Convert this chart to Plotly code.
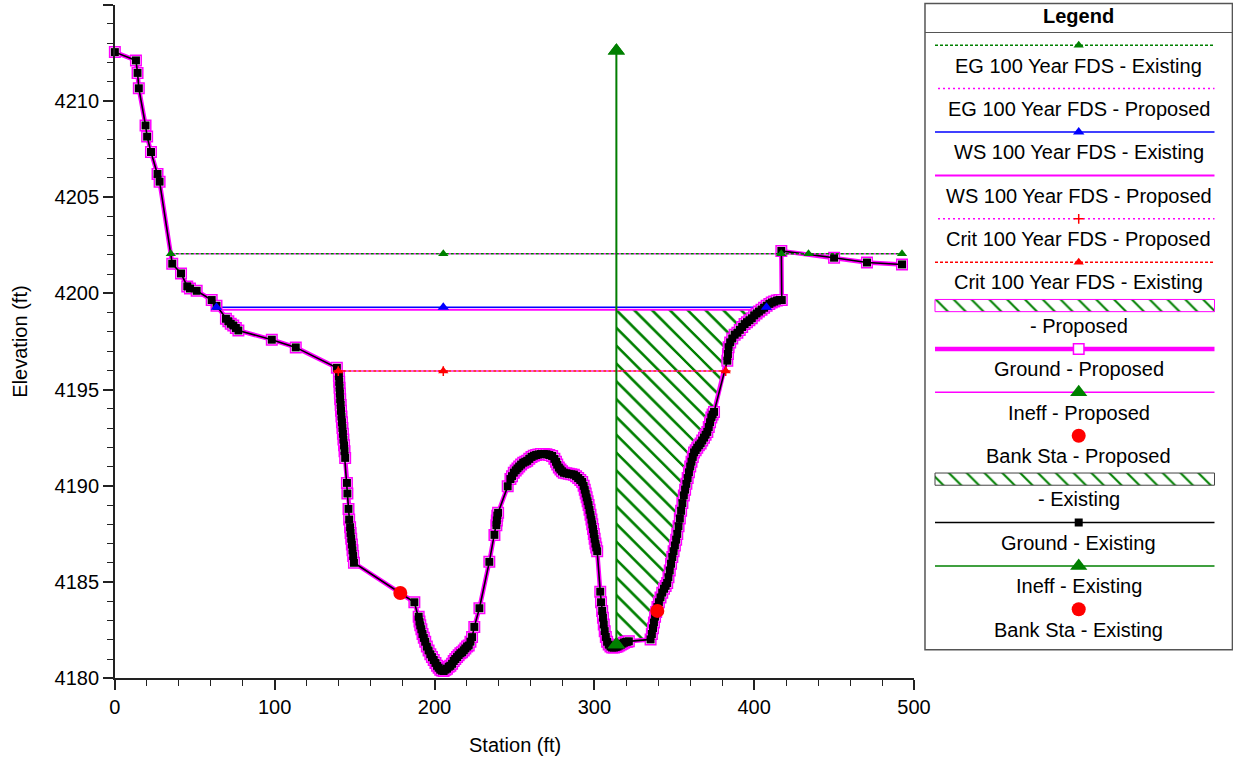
import numpy as np
import plotly.graph_objects as go

# ---------------------------------------------------------------------------
# Cross-section survey: station (ft) / elevation (ft)
# ---------------------------------------------------------------------------
ground_sta = [
    0.0, 13.2, 14.2, 15.0, 19.2, 20.2, 22.6, 26.7, 28.0, 35.9, 41.4, 45.3, 47.0,
    51.2, 60.6, 63.6, 69.5, 71.0, 72.5, 74.1, 75.7, 77.3, 98.2, 113.2, 138.9,
    140.2, 140.4, 140.6, 140.8, 141.0, 141.3, 141.5, 141.8, 142.1, 142.4, 142.7,
    143.0, 143.4, 143.7, 144.1,
    145.2, 145.5, 146.2, 146.6,
    147.2, 147.5, 147.9, 148.3, 148.7, 149.1, 149.6,
    187.4,
    190.1, 190.6, 191.1, 191.8, 192.5, 193.3, 194.2, 195.2, 196.3, 197.4, 198.4,
    199.5, 200.6, 201.6, 202.6, 203.6, 204.6, 205.7, 206.8, 207.8, 208.9, 209.9,
    211.0, 212.0, 213.0, 214.1, 215.1, 216.2, 217.2, 218.3, 219.3, 220.4, 221.4,
    222.5, 223.5,
    224.9, 228.1, 234.3, 237.5,
    238.7, 239.0, 239.3, 239.8,
    245.8,
    247.5, 248.5, 249.6, 250.8, 251.9, 253.0, 254.2, 255.5, 256.8, 258.0, 259.3,
    260.7, 262.1, 263.6, 265.0, 266.6, 268.4, 270.0, 271.8, 273.6, 275.0, 276.0,
    276.8, 277.8, 278.8, 279.8, 280.9, 282.5, 284.0, 285.6, 287.2, 288.6, 289.9,
    291.2, 292.4, 293.3, 294.0, 294.6, 295.2, 295.8, 296.4, 297.0, 297.6, 298.2,
    298.7, 299.2, 299.7, 300.2, 300.7, 301.2, 301.8,
    303.7, 304.2,
    304.9, 305.4, 305.9, 306.5, 307.2, 308.0, 309.0, 310.1, 311.2, 312.3, 313.4,
    314.5, 315.6, 316.6, 317.6, 318.6, 319.6, 320.6, 321.6,
    335.2,
    336.0, 336.7, 337.3, 338.0, 338.7, 339.5, 340.4, 341.4, 342.5, 343.6, 344.6,
    345.6, 346.4, 347.2, 348.0, 348.8, 349.6, 350.4, 351.2, 351.9, 352.7, 353.5,
    354.3, 355.1, 356.0, 356.8, 357.6, 358.4, 359.2, 360.0, 360.8, 361.6, 362.4,
    363.4, 364.4, 365.4, 366.5, 367.5, 368.6, 369.6, 370.7, 371.6, 372.4, 373.2,
    374.0, 374.9,
    383.2,
    383.6, 384.0, 385.0, 386.3, 387.8, 389.5, 391.0, 392.5, 394.0, 395.5, 397.0,
    398.5, 400.0, 401.5, 403.0, 404.6, 406.2, 407.8, 409.5, 411.0, 412.5, 414.2,
    415.8, 417.3,
    417.0, 450.0, 470.6, 492.5,
]
ground_elev = [
    4212.53, 4212.10, 4211.45, 4210.65, 4208.72, 4208.14, 4207.34, 4206.20,
    4205.80, 4201.54, 4201.03, 4200.36, 4200.25, 4200.13, 4199.65, 4199.35,
    4198.68, 4198.55, 4198.42, 4198.33, 4198.20, 4198.07, 4197.59, 4197.19,
    4196.13,
    4195.70, 4195.40, 4195.10, 4194.80, 4194.50, 4194.20, 4193.90, 4193.60,
    4193.30, 4193.00, 4192.70, 4192.40, 4192.10, 4191.80, 4191.45,
    4190.15, 4189.60, 4188.80, 4188.25,
    4187.85, 4187.55, 4187.25, 4186.95, 4186.65, 4186.35, 4186.00,
    4183.95,
    4183.20, 4182.95, 4182.75, 4182.55, 4182.30, 4182.10, 4181.90, 4181.65,
    4181.45, 4181.25, 4181.10, 4180.95, 4180.80, 4180.65, 4180.55, 4180.45,
    4180.40, 4180.38, 4180.45, 4180.50, 4180.60, 4180.65, 4180.75, 4180.90,
    4181.00, 4181.10, 4181.20, 4181.30, 4181.35, 4181.45, 4181.55, 4181.65,
    4181.70, 4181.90, 4182.14,
    4182.67, 4183.64, 4186.05, 4187.45,
    4187.95, 4188.20, 4188.45, 4188.60,
    4189.97,
    4190.35, 4190.50, 4190.68, 4190.80, 4190.90, 4191.00, 4191.10, 4191.20,
    4191.25, 4191.30, 4191.40, 4191.50, 4191.56, 4191.60, 4191.63, 4191.65,
    4191.65, 4191.64, 4191.60, 4191.55, 4191.40, 4191.25, 4191.10, 4190.95,
    4190.85, 4190.75, 4190.68, 4190.65, 4190.62, 4190.60, 4190.58, 4190.50,
    4190.40, 4190.30, 4190.20, 4190.00, 4189.80, 4189.60, 4189.40, 4189.20,
    4189.00, 4188.75, 4188.50, 4188.25, 4188.00, 4187.75, 4187.50, 4187.25,
    4187.00, 4186.80, 4186.60,
    4184.50, 4183.95,
    4183.50, 4183.15, 4182.80, 4182.45, 4182.15, 4181.90, 4181.75, 4181.65,
    4181.60, 4181.60, 4181.62, 4181.65, 4181.70, 4181.75, 4181.80, 4181.85,
    4181.88, 4181.90, 4181.92,
    4182.02,
    4182.30, 4182.60, 4182.90, 4183.20, 4183.45, 4183.70, 4183.95, 4184.20,
    4184.45, 4184.65, 4184.80, 4184.95, 4185.25, 4185.60, 4185.95, 4186.30,
    4186.60, 4186.90, 4187.20, 4187.50, 4187.90, 4188.30, 4188.70, 4189.10,
    4189.50, 4189.80, 4190.10, 4190.40, 4190.70, 4191.00, 4191.25, 4191.50,
    4191.73, 4191.85, 4191.98, 4192.10, 4192.20, 4192.35, 4192.50, 4192.65,
    4192.80, 4193.05, 4193.30, 4193.55, 4193.70, 4193.84,
    4196.50,
    4196.85, 4197.20, 4197.45, 4197.65, 4197.85, 4197.95, 4198.10, 4198.25,
    4198.40, 4198.50, 4198.60, 4198.70, 4198.85, 4198.95, 4199.05, 4199.15,
    4199.25, 4199.35, 4199.45, 4199.52, 4199.57, 4199.62, 4199.65, 4199.65,
    4202.20, 4201.85, 4201.60, 4201.50,
]

# Water surface / energy grade / critical depth (100 Year FDS)
eg_elev = 4202.05
eg_sta = [35.0, 205.5, 417.0, 434.0, 492.5]
ws_exist_elev = 4199.28
ws_exist_sta = [63.6, 205.5, 407.7]
ws_prop_elev = 4199.15
ws_prop_sta = [65.2, 404.6]
crit_elev = 4195.96
crit_sta = [139.8, 205.5, 382.2]

# Ineffective flow limit and bank stations
ineff_sta = 313.8
ineff_elev = [4181.75, 4212.6]
bank_sta = [178.6, 339.4]
bank_elev = [4184.43, 4183.50]

x_range = [0, 500]
y_range = [4180, 4215]

legend_labels = [
    "EG 100 Year FDS - Existing",
    "EG 100 Year FDS - Proposed",
    "WS 100 Year FDS - Existing",
    "WS 100 Year FDS - Proposed",
    "Crit 100 Year FDS - Proposed",
    "Crit 100 Year FDS - Existing",
    " - Proposed",
    "Ground - Proposed",
    "Ineff - Proposed",
    "Bank Sta - Proposed",
    " - Existing",
    "Ground - Existing",
    "Ineff - Existing",
    "Bank Sta - Existing",
]
legend_keys = [
    "eg_exist", "eg_prop", "ws_exist", "ws_prop", "crit_prop", "crit_exist",
    "hatch_prop", "ground_prop", "ineff_prop", "bank_prop", "hatch_exist",
    "ground_exist", "ineff_exist", "bank_exist",
]

# ---------------------------------------------------------------------------
# Styles
# ---------------------------------------------------------------------------
MAG = "#FF00FF"
GRN = "#008000"
BLU = "#0000FF"
RED = "#FF0000"
BLK = "#000000"
AX = "#222222"
FONT = "Liberation Sans, Arial, sans-serif"

DOT = "3px,2px"
DOT_FILL = "0px,3px,2px,0px"  # same rhythm, shifted into the gaps
HATCH = dict(shape="\\", fgcolor=GRN, bgcolor="rgba(0,0,0,0)",
             size=12.6, solidity=0.16, fillmode="replace")

styles = {
    "eg_exist": dict(kind="line", line=dict(color=GRN, width=1.5, dash=DOT),
                     marker=dict(symbol="triangle-up", size=9, color=GRN)),
    "eg_prop": dict(kind="line", line=dict(color=MAG, width=1.5, dash=DOT_FILL), marker=None),
    "ws_exist": dict(kind="line", line=dict(color=BLU, width=1.5),
                     marker=dict(symbol="triangle-up", size=10, color=BLU)),
    "ws_prop": dict(kind="line", line=dict(color=MAG, width=2), marker=None),
    "crit_prop": dict(kind="line", line=dict(color=MAG, width=1.5, dash=DOT_FILL),
                      marker=dict(symbol="cross-thin", size=7, color=RED,
                                  line=dict(color=RED, width=1.5))),
    "crit_exist": dict(kind="line", line=dict(color=RED, width=1.5, dash=DOT),
                       marker=dict(symbol="triangle-up", size=9, color=RED)),
    "hatch_prop": dict(kind="hatch", border=MAG),
    "ground_prop": dict(kind="line", line=dict(color=MAG, width=4.5),
                        marker=dict(symbol="square", size=10.5, color="white",
                                    line=dict(color=MAG, width=1.5))),
    "ineff_prop": dict(kind="line", line=dict(color=MAG, width=1.5),
                       marker=dict(symbol="triangle-up", size=15, color=GRN)),
    "bank_prop": dict(kind="marker", marker=dict(symbol="circle", size=14, color=RED)),
    "hatch_exist": dict(kind="hatch", border="#444444"),
    "ground_exist": dict(kind="line", line=dict(color=BLK, width=1.6),
                         marker=dict(symbol="square", size=8, color=BLK)),
    "ineff_exist": dict(kind="line", line=dict(color=GRN, width=1.5),
                        marker=dict(symbol="triangle-up", size=15, color=GRN)),
    "bank_exist": dict(kind="marker", marker=dict(symbol="circle", size=14, color=RED)),
}

W, H = 1233, 759
# Margins that the axis tick labels push out to (end labels overhanging the axes)
M_L, M_R, M_T, M_B = 6.3, 18.4, 11.5, 11.4
PLOT_L, PLOT_R, PLOT_T, PLOT_B = 115, 913, 16, 679
LG_X0, LG_X1, LG_Y0, LG_Y1 = 923, 1232, 14, 652
WP = W - M_L - M_R
HP = H - M_T - M_B


def px_x(p):
    return (p - M_L) / WP


def px_y(p):
    return 1 - (p - M_T) / HP


fig = go.Figure()

# ---------------------------------------------------------------------------
# Ineffective flow area (hatched) between the ineff limit and the right bank
# ---------------------------------------------------------------------------
gs = np.array(ground_sta)
ge = np.array(ground_elev)
mono_end = int(np.where(np.diff(gs) < 0)[0][0]) + 1
bottom = float(np.interp(ineff_sta, gs[:mono_end], ge[:mono_end]))
inside = (gs[:mono_end] > ineff_sta) & (gs[:mono_end] < ws_prop_sta[1])
hatch_x = [ineff_sta] + gs[:mono_end][inside].tolist() + [ws_prop_sta[1], ineff_sta, ineff_sta]
hatch_y = [bottom] + ge[:mono_end][inside].tolist() + [ws_prop_elev, ws_prop_elev, bottom]

for key in ("hatch_exist", "hatch_prop"):
    fig.add_trace(go.Scatter(
        x=hatch_x, y=hatch_y, mode="lines", fill="toself",
        fillcolor="rgba(0,0,0,0)", fillpattern=HATCH,
        line=dict(width=0), hoverinfo="skip", showlegend=False))


def line_trace(x, y, key, with_markers=True, **kw):
    st = styles[key]
    mode = "lines+markers" if (with_markers and st.get("marker")) else "lines"
    tr = dict(x=x, y=y, mode=mode, line=st["line"], showlegend=False)
    if mode == "lines+markers":
        tr["marker"] = st["marker"]
    tr.update(kw)
    return go.Scatter(**tr)


# Water surfaces
fig.add_trace(line_trace(ws_prop_sta, [ws_prop_elev] * len(ws_prop_sta), "ws_prop"))
fig.add_trace(line_trace(ws_exist_sta, [ws_exist_elev] * len(ws_exist_sta), "ws_exist",
                         with_markers=False))

# Ground lines
fig.add_trace(line_trace(ground_sta, ground_elev, "ground_prop", cliponaxis=False))
fig.add_trace(line_trace(ground_sta, ground_elev, "ground_exist", cliponaxis=False))

# Energy grade and critical depth lines
fig.add_trace(line_trace([eg_sta[0], eg_sta[-1]], [eg_elev, eg_elev], "eg_prop"))
fig.add_trace(line_trace(eg_sta, [eg_elev] * len(eg_sta), "eg_exist"))
fig.add_trace(line_trace(crit_sta, [crit_elev] * len(crit_sta), "crit_prop"))
fig.add_trace(line_trace(crit_sta, [crit_elev] * len(crit_sta), "crit_exist"))
fig.add_trace(go.Scatter(x=ws_exist_sta, y=[ws_exist_elev] * len(ws_exist_sta),
                         mode="markers", marker=styles["ws_exist"]["marker"],
                         showlegend=False))

# Ineffective flow limits (proposed drawn narrower underneath)
fig.add_trace(line_trace([ineff_sta, ineff_sta], ineff_elev, "ineff_prop",
                         line=dict(color=MAG, width=0.8)))
fig.add_trace(line_trace([ineff_sta, ineff_sta], ineff_elev, "ineff_exist",
                         line=dict(color=GRN, width=2)))

# Bank stations
fig.add_trace(go.Scatter(x=bank_sta, y=bank_elev, mode="markers",
                         marker=styles["bank_exist"]["marker"], showlegend=False,
                         cliponaxis=False))

# ---------------------------------------------------------------------------
# Legend panel (own hidden axes in pixel units; frame and text in paper units)
# ---------------------------------------------------------------------------
ROW0, ROW_DY, TEXT_DY = 56.0, 42.7, 20.0
X2_DOM = [px_x(LG_X0), 1.0]
X2_RANGE = [LG_X0, LG_X0 + (X2_DOM[1] - X2_DOM[0]) * WP]
SX0, SX1 = 934, min(1222, X2_RANGE[1] - 1.5)
SXC = (LG_X0 + LG_X1) / 2

for i, (key, label) in enumerate(zip(legend_keys, legend_labels)):
    st = styles[key]
    yc = ROW0 + ROW_DY * i
    if st["kind"] == "line":
        fig.add_trace(go.Scatter(x=[SX0, SX1], y=[yc, yc], mode="lines", line=st["line"],
                                 xaxis="x2", yaxis="y2", showlegend=False, hoverinfo="skip"))
        if st.get("marker"):
            fig.add_trace(go.Scatter(x=[SXC], y=[yc], mode="markers", marker=st["marker"],
                                     xaxis="x2", yaxis="y2", showlegend=False,
                                     hoverinfo="skip"))
    elif st["kind"] == "hatch":
        fig.add_trace(go.Scatter(
            x=[SX0, SX1, SX1, SX0, SX0], y=[yc - 6, yc - 6, yc + 6, yc + 6, yc - 6],
            mode="lines", fill="toself", fillcolor="rgba(0,0,0,0)", fillpattern=HATCH,
            line=dict(color=st["border"], width=1), xaxis="x2", yaxis="y2",
            showlegend=False, hoverinfo="skip"))
    else:
        fig.add_trace(go.Scatter(x=[SXC], y=[yc], mode="markers", marker=st["marker"],
                                 xaxis="x2", yaxis="y2", showlegend=False, hoverinfo="skip"))
    fig.add_annotation(x=px_x(SXC), y=px_y(yc + TEXT_DY), xref="paper", yref="paper",
                       text=label.strip(), showarrow=False, xanchor="center",
                       yanchor="middle", font=dict(family=FONT, size=20, color=BLK))

fig.add_annotation(x=px_x(SXC), y=px_y(27), xref="paper", yref="paper", text="<b>Legend</b>",
                   showarrow=False, xanchor="center", yanchor="middle",
                   font=dict(family=FONT, size=20, color=BLK))
fig.add_shape(type="rect", xref="paper", yref="paper",
              x0=px_x(LG_X0 + 1), x1=px_x(LG_X1 - 1), y0=px_y(LG_Y0 + 1), y1=px_y(LG_Y1 - 1),
              line=dict(color="#555555", width=1.5), fillcolor="rgba(0,0,0,0)", layer="above")
fig.add_shape(type="line", xref="paper", yref="paper",
              x0=px_x(LG_X0 + 1), x1=px_x(LG_X1 - 1), y0=px_y(43.5), y1=px_y(43.5),
              line=dict(color="#555555", width=1.2), layer="above")

# Axis titles
fig.add_annotation(x=px_x(515), y=px_y(745), xref="paper", yref="paper",
                   text="Station (ft)", showarrow=False, xanchor="center", yanchor="middle",
                   font=dict(family=FONT, size=20, color=BLK))
fig.add_annotation(x=px_x(20), y=px_y(348), xref="paper", yref="paper",
                   text="Elevation (ft)", showarrow=False, textangle=-90,
                   xanchor="center", yanchor="middle",
                   font=dict(family=FONT, size=20, color=BLK))

axis_common = dict(
    showgrid=False, zeroline=False, showline=True, linecolor=AX, linewidth=1.5,
    ticks="outside", ticklen=10, tickwidth=1.5, tickcolor=AX,
    tickfont=dict(family=FONT, size=20, color=BLK),
)

fig.update_layout(
    width=W, height=H,
    margin=dict(l=0, r=0, t=0, b=0),
    paper_bgcolor="white", plot_bgcolor="white",
    showlegend=False,
    font=dict(family=FONT, size=20, color=BLK),
    xaxis=dict(domain=[px_x(PLOT_L), px_x(PLOT_R)], range=x_range,
               tickmode="linear", tick0=0, dtick=100,
               minor=dict(dtick=20, ticks="outside", ticklen=6, tickwidth=1.2,
                          tickcolor=AX, showgrid=False),
               anchor="y", **axis_common),
    yaxis=dict(domain=[px_y(PLOT_B), px_y(PLOT_T)], range=y_range,
               tickmode="linear", tick0=4180, dtick=5,
               minor=dict(dtick=1, ticks="outside", ticklen=6, tickwidth=1.2,
                          tickcolor=AX, showgrid=False),
               anchor="x", **axis_common),
    xaxis2=dict(domain=X2_DOM, range=X2_RANGE, visible=False, anchor="y2",
                fixedrange=True),
    yaxis2=dict(domain=[max(0.0, px_y(LG_Y1)), min(1.0, px_y(LG_Y0))],
                range=[LG_Y1, LG_Y0], visible=False, anchor="x2", fixedrange=True),
)

fig.write_html("out.html")
